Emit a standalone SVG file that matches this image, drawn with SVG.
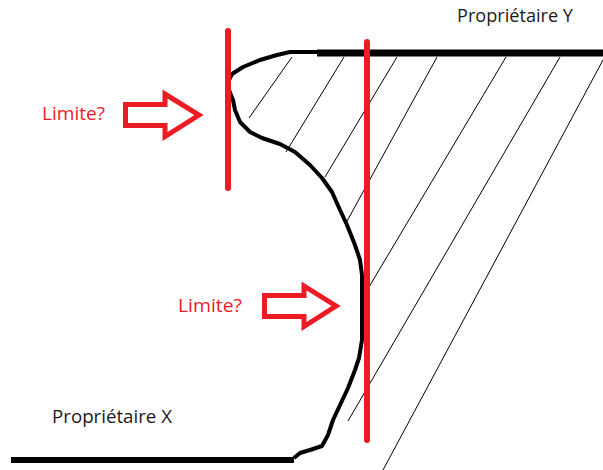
<svg xmlns="http://www.w3.org/2000/svg" width="603" height="470" viewBox="0 0 603 470">
<style>
.hatch{stroke:#000;stroke-width:1;fill:none}
.blk{stroke:#000;fill:none;stroke-linecap:butt}
.red{stroke:#ed1c24;stroke-width:6;stroke-linecap:round;fill:none}
.arrow{stroke:#ed1c24;stroke-width:5;fill:#fff;stroke-linejoin:miter}
.lbl{font-family:"Open Sans","Liberation Sans",sans-serif;font-size:18px}
.owner{fill:#1a1a1a}
.q{fill:#ed1c24}
</style>
<rect width="603" height="470" fill="#fff"/>
<g id="hatching">
<line class="hatch" x1="292" y1="57" x2="249" y2="118"/>
<line class="hatch" x1="344" y1="57" x2="286" y2="152"/>
<line class="hatch" x1="397" y1="57" x2="325" y2="177"/>
<line class="hatch" x1="437" y1="57" x2="346" y2="223"/>
<line class="hatch" x1="506" y1="57" x2="363" y2="297"/>
<line class="hatch" x1="560" y1="57" x2="348" y2="421"/>
<line class="hatch" x1="603" y1="60" x2="383" y2="470"/>
</g>
<g id="boundary">
<polyline class="blk" stroke-width="4" stroke-linejoin="round" points="318,52 290,52 277,55 260,60 243,67 232,74 229,80 229,90 233,100 235,110 240,122 250,132 262,138 280,144 295,152 310,165 322,178 332,192 340,210 347,225 355,245 360,260 362,275 362,340 359,358 355,370 348,388 341,403 333,420 328,435 322,446 310,450 300,453 294,458"/>
<line class="blk" stroke-width="7" x1="317" y1="53" x2="603" y2="53"/>
<line class="blk" stroke-width="6" x1="11" y1="460" x2="294" y2="460"/>
</g>
<g id="limit-lines">
<line class="red" x1="228" y1="31" x2="228" y2="188"/>
<line class="red" x1="367" y1="42" x2="367" y2="440"/>
</g>
<g id="arrow-1">
<polygon class="arrow" points="125.5,104.5 165,104.5 165,94 199,115 165,136.5 165,125.5 125.5,125.5"/>
<text class="lbl q" x="42" y="120" textLength="63" lengthAdjust="spacingAndGlyphs">Limite?</text>
</g>
<g id="arrow-2">
<polygon class="arrow" points="264.5,295.5 304,295.5 304,286 336,306 304,326.5 304,316.5 264.5,316.5"/>
<text class="lbl q" x="178" y="312" textLength="64" lengthAdjust="spacingAndGlyphs">Limite?</text>
</g>
<g id="owner-y">
<text class="lbl owner" x="457" y="22" textLength="116" lengthAdjust="spacingAndGlyphs">Propriétaire Y</text>
</g>
<g id="owner-x">
<text class="lbl owner" x="52" y="423" textLength="120" lengthAdjust="spacingAndGlyphs">Propriétaire X</text>
</g>
</svg>
